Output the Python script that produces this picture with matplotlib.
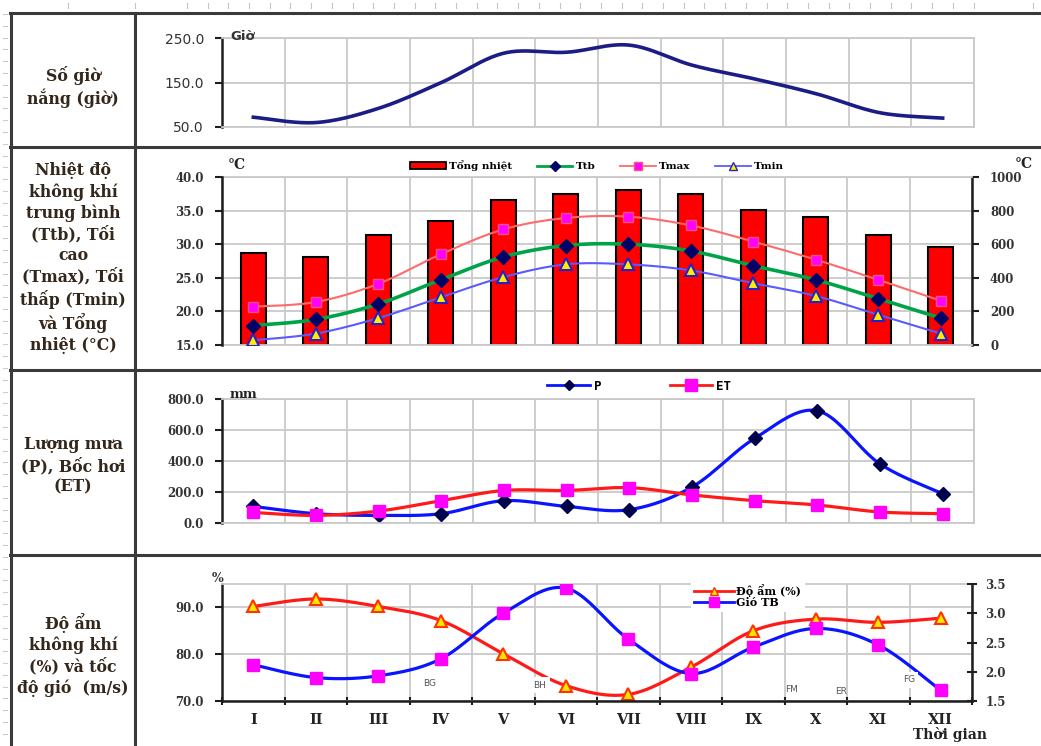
import numpy as np
from matplotlib import pyplot as plt
from matplotlib.lines import Line2D
from matplotlib.patches import Patch

W, H = 1041, 746

months = ['I', 'II', 'III', 'IV', 'V', 'VI', 'VII', 'VIII', 'IX', 'X', 'XI', 'XII']

# số giờ nắng (giờ)
sunshine = [72, 60, 92, 150, 216, 218, 234, 189, 158, 124, 82, 70]

# nhiệt độ không khí (°C) và tổng nhiệt
total_heat = [549, 522, 653, 736, 863, 897, 925, 897, 804, 764, 653, 583]
t_mean = [17.9, 18.8, 21.1, 24.7, 28.1, 29.8, 30.0, 29.0, 26.8, 24.7, 21.9, 19.0]
t_max = [20.7, 21.4, 24.1, 28.5, 32.2, 33.9, 34.1, 32.8, 30.4, 27.7, 24.7, 21.6]
t_min = [15.7, 16.7, 19.0, 22.1, 25.1, 27.0, 27.0, 26.1, 24.2, 22.3, 19.5, 16.7]

# lượng mưa P và bốc hơi ET (mm)
rain = [107, 60, 49, 60, 144, 107, 86, 232, 546, 724, 381, 189]
evap = [68, 49, 77, 144, 210, 210, 228, 181, 144, 116, 71, 60]

# độ ẩm (%) và tốc độ gió (m/s)
humidity = [90.2, 91.8, 90.2, 87.2, 80.1, 73.3, 71.4, 77.2, 85.0, 87.5, 86.8, 87.7]
wind = [2.12, 1.90, 1.93, 2.22, 3.00, 3.43, 2.56, 1.97, 2.42, 2.74, 2.46, 1.68]

row_titles = [
    ('Số giờ\nnắng (giờ)', 87),
    ('Nhiệt độ\nkhông khí\ntrung bình\n(Ttb), Tối\ncao\n(Tmax), Tối\nthấp (Tmin)\nvà Tổng\nnhiệt (°C)', 258),
    ('Lượng mưa\n(P), Bốc hơi\n(ET)', 466),
    ('Độ ẩm\nkhông khí\n(%) và tốc\nđộ gió  (m/s)', 655),
]

GRID = '#c9c9c9'
DARK = '#1e1e1e'
SERIF_B = dict(family='DejaVu Serif', weight='bold')

x = np.arange(1, 13)

fig = plt.figure(figsize=(W / 100, H / 100), dpi=100)


def px(xp, yp):
    return xp / W, 1 - yp / H


def panel(x0, y0, x1, y1):
    return fig.add_axes([x0 / W, 1 - y1 / H, (x1 - x0) / W, (y1 - y0) / H])


def smooth(xs, ys, n=24):
    # Catmull-Rom, kiểu đường "smoothed line" của Excel
    xs = np.asarray(xs, float)
    ys = np.asarray(ys, float)
    pxs = np.concatenate([[xs[0]], xs, [xs[-1]]])
    pys = np.concatenate([[ys[0]], ys, [ys[-1]]])
    t = np.linspace(0, 1, n, endpoint=False)
    outx, outy = [], []
    for i in range(1, len(pxs) - 2):
        for p, out in ((pxs, outx), (pys, outy)):
            p0, p1, p2, p3 = p[i - 1:i + 3]
            out.append(0.5 * (2 * p1 + (p2 - p0) * t
                              + (2 * p0 - 5 * p1 + 4 * p2 - p3) * t ** 2
                              + (3 * p1 - p0 - 3 * p2 + p3) * t ** 3))
    outx.append([xs[-1]])
    outy.append([ys[-1]])
    return np.concatenate(outx), np.concatenate(outy)


def base(ax, grid=True):
    ax.set_xlim(0.5, 12.5)
    ax.set_xticks(np.arange(0.5, 12.6, 1))
    ax.tick_params(axis='x', length=0, labelbottom=False)
    if grid:
        ax.grid(True, color=GRID, lw=1.3)
        ax.set_axisbelow(True)
    for s in ax.spines.values():
        s.set_color(GRID)
        s.set_linewidth(1.3)


def dark_spine(ax, side):
    ax.spines[side].set_color(DARK)
    ax.spines[side].set_linewidth(1.8)


# ---- bảng khung ----
for yl in (13, 147, 369.5, 555):
    fig.add_artist(Line2D([10 / W, 1], [1 - yl / H] * 2, color='#3a3a3a', lw=2.2))
for xl in (11, 135):
    fig.add_artist(Line2D([xl / W] * 2, [1 - 13 / H, 0], color='#3a3a3a', lw=2.2))

# vạch thước nhỏ
for xr in np.concatenate([[68, 135], np.arange(187, 975, 20.7), [1033]]):
    fig.add_artist(Line2D([xr / W] * 2, [1 - 3 / H, 1 - 8 / H], color='#c4c4c4', lw=0.8))
for yr in np.arange(14, 740, 11.8):
    fig.add_artist(Line2D([3 / W, 7 / W], [1 - yr / H] * 2, color='#cccccc', lw=0.8))

for title, yc in row_titles:
    fig.text(*px(73, yc), title, ha='center', va='center', fontsize=11.3,
             color='#33261a', linespacing=1.28, **SERIF_B)

# ---- 1. số giờ nắng ----
ax1 = panel(222, 38, 974, 127)
base(ax1)
dark_spine(ax1, 'left')
ax1.set_ylim(50, 250)
ax1.set_yticks([50, 150, 250], labels=['50.0', '150.0', '250.0'],
               family='DejaVu Sans', fontsize=10, color='#333333')
ax1.tick_params(axis='y', direction='out', length=5, width=1.5, color=DARK, pad=8)
ax1.plot(*smooth(x, sunshine), color='#1c1c86', lw=2.6)
fig.text(*px(230, 37), 'Giờ', ha='left', va='center', fontsize=9.5,
         weight='bold', color='#333333')

# ---- 2. nhiệt độ ----
ax2b = panel(222, 177, 972, 345)
base(ax2b)
ax2b.set_ylim(0, 1000)
ax2b.bar(x, total_heat, width=0.4, color='#ff0000', edgecolor='black', lw=1.5,
         label='Tổng nhiệt')
ax2 = ax2b.twinx()
ax2b.yaxis.tick_right()
ax2.yaxis.tick_left()
ax2b.set_yticks(np.arange(0, 1001, 200), labels=[str(v) for v in range(0, 1001, 200)],
                fontsize=8.5, color='#333333', **SERIF_B)
ax2b.tick_params(axis='y', direction='out', length=5, width=1.5, color=DARK, pad=8)
dark_spine(ax2b, 'right')
ax2.set_ylim(15, 40)
ax2.set_yticks(np.arange(15, 41, 5), labels=['%.1f' % v for v in np.arange(15, 41, 5)],
               fontsize=8.5, color='#333333', **SERIF_B)
ax2.tick_params(axis='y', direction='out', length=5, width=1.5, color=DARK, pad=8)
for s in ('top', 'bottom', 'right'):
    ax2.spines[s].set_visible(False)
dark_spine(ax2, 'left')

ax2.plot(*smooth(x, t_max), color='#ff6a6a', lw=1.5)
ax2.plot(x, t_max, 's', ms=7, mfc='#ff00ff', mec='#ff4f80', mew=1)
ax2.plot(*smooth(x, t_mean), color='#00a448', lw=2.6)
ax2.plot(x, t_mean, 'D', ms=7, mfc='#000066', mec='#000066')
ax2.plot(*smooth(x, t_min), color='#5a5aff', lw=1.5)
ax2.plot(x, t_min, '^', ms=8, mfc='#ffee00', mec='#2323c8', mew=1.5)

h2 = [
    Patch(facecolor='#ff0000', edgecolor='black', lw=1.3, label='Tổng nhiệt'),
    Line2D([], [], color='#00a448', lw=2, marker='D', ms=5, mfc='#000066', mec='#000066', label='Ttb'),
    Line2D([], [], color='#ff6a6a', lw=1.3, marker='s', ms=6, mfc='#ff00ff', mec='#ff4f80', label='Tmax'),
    Line2D([], [], color='#5a5aff', lw=1.3, marker='^', ms=6, mfc='#ffee00', mec='#2323c8', label='Tmin'),
]
ax2.legend(handles=h2, loc='lower center', bbox_to_anchor=(0.5, 1.0), ncol=4,
           frameon=False, handlelength=3.4, handleheight=0.55, handletextpad=0.3,
           columnspacing=2.4, borderaxespad=0.15,
           prop=dict(family='DejaVu Serif', weight='bold', size=7.5))
fig.text(*px(228, 165), '°C', ha='left', va='center', fontsize=10, color='#222222', **SERIF_B)
fig.text(*px(1015, 164), '°C', ha='left', va='center', fontsize=10, color='#222222', **SERIF_B)

# ---- 3. lượng mưa, bốc hơi ----
ax3 = panel(222, 399, 974, 523)
base(ax3)
dark_spine(ax3, 'left')
ax3.set_ylim(0, 800)
ax3.set_yticks(np.arange(0, 801, 200), labels=['%.1f' % v for v in range(0, 801, 200)],
               fontsize=8.5, color='#333333', **SERIF_B)
ax3.tick_params(axis='y', direction='out', length=5, width=1.5, color=DARK, pad=8)
ax3.plot(*smooth(x, rain), color='#0a14ff', lw=2.3, label='P')
ax3.plot(x, rain, 'D', ms=7, mfc='#00004d', mec='#00004d')
ax3.plot(*smooth(x, evap), color='#ff1a1a', lw=2.3)
ax3.plot(x, evap, 's', ms=9, mfc='#ff00ff', mec='#ff00ff')
h3 = [
    Line2D([], [], color='#0a14ff', lw=2, marker='D', ms=5, mfc='#00004d', mec='#00004d', label='P'),
    Line2D([], [], color='#ff1a1a', lw=2, marker='s', ms=8, mfc='#ff00ff', mec='#ff00ff', label='ET'),
]
ax3.legend(handles=h3, loc='lower center', bbox_to_anchor=(0.555, 1.0), ncol=2,
           frameon=False, handlelength=3.4, handletextpad=0.3, columnspacing=5.5,
           borderaxespad=0.1, prop=dict(family='DejaVu Sans Mono', weight='bold', size=9))
fig.text(*px(230, 395), 'mm', ha='left', va='center', fontsize=9.5, color='#222222', **SERIF_B)

# ---- 4. độ ẩm, gió ----
ax4 = panel(222, 584, 972, 701)
base(ax4)
dark_spine(ax4, 'left')
dark_spine(ax4, 'bottom')
ax4.set_ylim(70, 95)
ax4.set_yticks([70, 80, 90], labels=['70.0', '80.0', '90.0'],
               fontsize=8.5, color='#333333', **SERIF_B)
ax4.tick_params(axis='y', direction='out', length=5, width=1.5, color=DARK, pad=8)
ax4.tick_params(axis='x', which='major', direction='inout', length=6, width=1.5, color=DARK)
ax4.set_xticks(x, labels=months, minor=True, fontsize=10.5, color='#222222', **SERIF_B)
ax4.tick_params(axis='x', which='minor', length=0, pad=9)

ax4w = ax4.twinx()
for s in ('top', 'bottom', 'left'):
    ax4w.spines[s].set_visible(False)
dark_spine(ax4w, 'right')
ax4.spines['right'].set_visible(False)
ax4w.set_ylim(1.5, 3.5)
ax4w.set_yticks(np.arange(1.5, 3.6, 0.5), labels=['%.1f' % v for v in np.arange(1.5, 3.6, 0.5)],
                fontsize=8.5, color='#333333', **SERIF_B)
ax4w.tick_params(axis='y', direction='inout', length=7, width=1.5, color=DARK, pad=6)

ax4.plot(*smooth(x, humidity), color='#ff1a1a', lw=2.3)
ax4.plot(x, humidity, '^', ms=9, mfc='#ffe600', mec='#ff3300', mew=1.5)
ax4w.plot(*smooth(x, wind), color='#0a14ff', lw=2.3)
ax4w.plot(x, wind, 's', ms=9, mfc='#ff00ff', mec='#ff00ff')

h4 = [
    Line2D([], [], color='#ff1a1a', lw=2, marker='^', ms=6, mfc='#ffe600', mec='#ff3300', label='Độ ẩm (%)'),
    Line2D([], [], color='#0a14ff', lw=2, marker='s', ms=7, mfc='#ff00ff', mec='#ff00ff', label='Gió TB'),
]
ax4w.legend(handles=h4, loc='upper left', bbox_to_anchor=(0.625, 1.03), ncol=1,
            frameon=True, facecolor='white', edgecolor='none', framealpha=1,
            handlelength=3.6, handletextpad=0.2, labelspacing=0.05, borderaxespad=0,
            borderpad=0.3, prop=dict(family='DejaVu Serif', weight='bold', size=8))

for lab, xl, yl, box in (('BG', 430, 684, False), ('BH', 540, 685, True),
                         ('FM', 792, 689, False), ('ER', 841, 692, False),
                         ('FG', 909, 680, True)):
    kw = dict(bbox=dict(facecolor='white', edgecolor='none', pad=2.5)) if box else {}
    fig.text(*px(xl, yl), lab, ha='center', va='center', fontsize=6.5,
             color='#555555', zorder=5, **kw)

fig.text(*px(950, 735), 'Thời gian', ha='center', va='center', fontsize=10,
         color='#222222', **SERIF_B)
fig.text(*px(218, 578), '%', ha='center', va='center', fontsize=9, color='#333333', **SERIF_B)

fig.savefig('out.png', dpi=100)
